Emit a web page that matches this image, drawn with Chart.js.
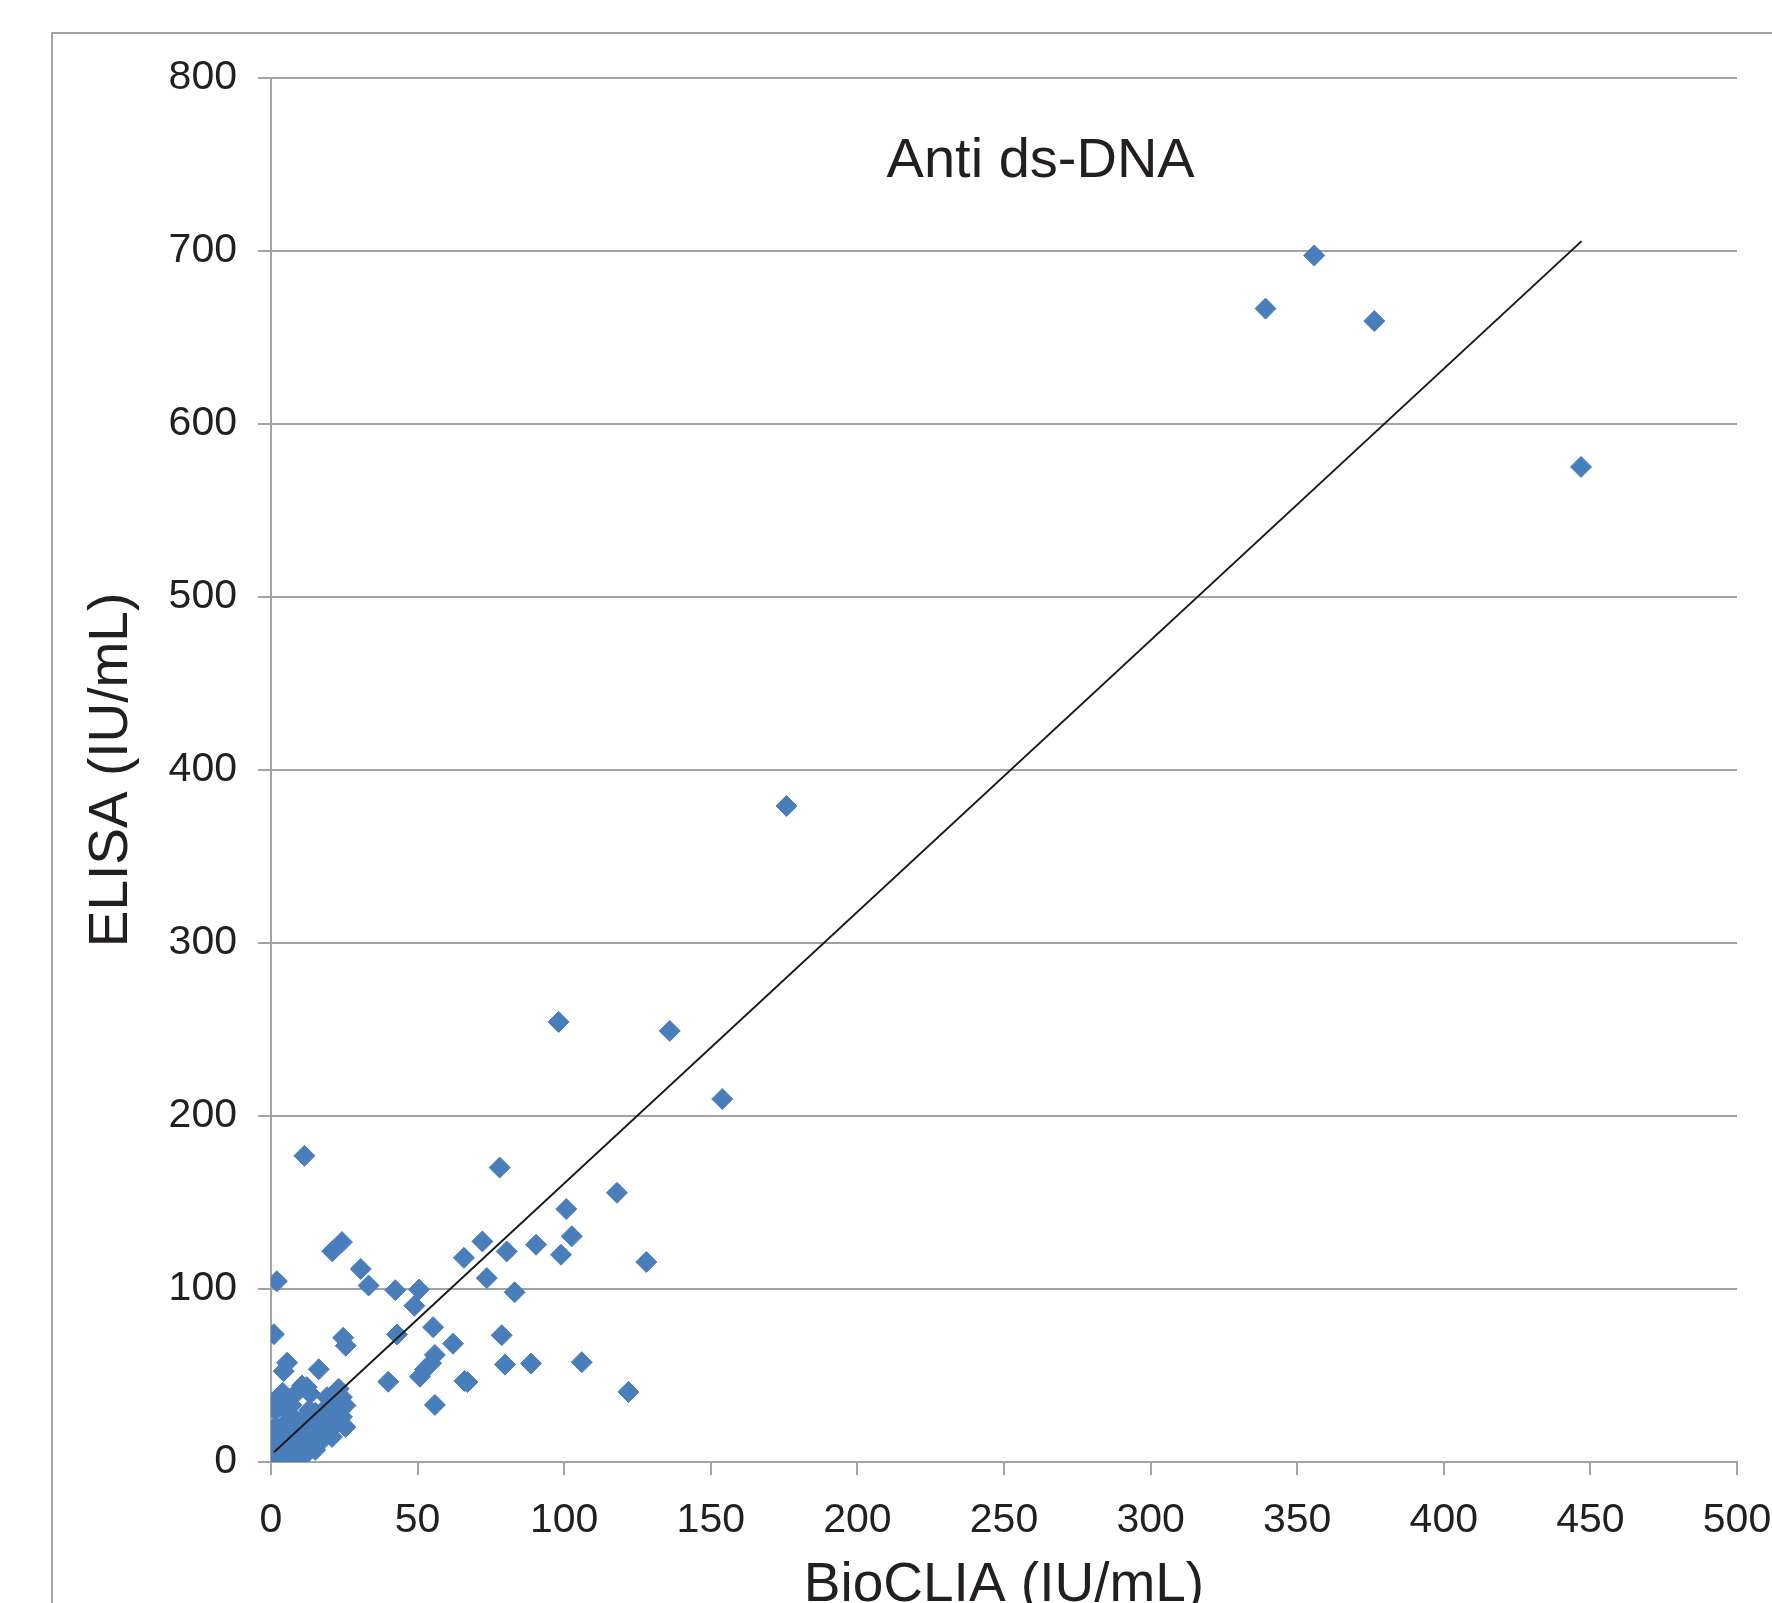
<!DOCTYPE html>
<html>
<head>
<meta charset="utf-8">
<script src="https://cdn.jsdelivr.net/npm/chart.js@4.4.0/dist/chart.umd.min.js"></script>
<style>
  html, body { margin: 0; padding: 0; background: #fff; overflow: hidden; }
  #wrap { position: relative; width: 1772px; height: 1603px; overflow: hidden; }
  #frame { position: absolute; left: 51px; top: 32px; width: 1800px; height: 1700px;
           border-left: 2px solid #a3a3a3; border-top: 2px solid #a3a3a3; }
  #myChart { position: absolute; left: 0; top: 0; }
</style>
</head>
<body>
<div id="wrap">
  <div id="frame"></div>
  <canvas id="myChart" width="1772" height="1660"></canvas>
</div>
<script>
// BioCLIA vs ELISA, Anti ds-DNA
const bioclia = [
  339.2, 355.8, 376.3, 446.8, 175.8, 98.1, 136.0, 153.9, 11.4, 78.0,
  118.0, 100.7, 102.6, 90.4, 72.1, 80.4, 98.9, 128.0, 65.8, 73.6,
  83.1, 24.2, 20.9, 30.6, 33.3, 2.0, 42.4, 50.5, 48.9, 1.0,
  24.6, 25.5, 43.0, 55.3, 78.7, 62.1, 55.9, 54.6, 52.5, 50.8,
  40.0, 66.0, 67.0, 79.8, 88.7, 106.0, 121.9, 55.9, 16.3, 5.5,
  4.3,
  2.6, 1.5, 10.6, 8.9, 13.4, 23.1, 24.2, 25.4, 24.2, 25.4,
  19.1, 18.5, 21.4, 20.8, 16.3, 12.9, 10.6, 8.3, 1.5, 0.3,
  0.2, 1.5, 6.0, 4.9, 8.3, 11.7, 15.1, 3.8, 6.0, 3.8,
  11.7, 14.0, 18.5, 21.9, 15.1, 9.4, 12.2, 1.9, 7.0, 3.0,
  2.0, 5.0, 10.6, 7.0, 13.0, 17.0, 20.0, 4.0
];
const elisa = [
  666.7, 697.4, 659.5, 575.2, 379.2, 254.4, 249.2, 209.8, 177.0, 170.2,
  155.6, 146.2, 130.5, 125.6, 127.5, 121.7, 119.8, 115.6, 118.0, 106.3,
  98.1, 127.1, 121.8, 111.6, 102.0, 104.5, 99.3, 99.7, 90.3, 73.9,
  71.8, 67.2, 73.7, 77.9, 73.3, 68.4, 61.9, 57.1, 53.5, 49.3,
  46.4, 46.8, 46.2, 56.3, 56.9, 57.7, 40.5, 33.0, 53.6, 57.4,
  52.5,
  37.5, 29.8, 44.2, 40.4, 39.4, 42.3, 37.5, 32.7, 26.1, 20.3,
  37.5, 30.8, 20.3, 14.5, 18.5, 12.7, 8.8, 5.0, 20.3, 12.7,
  5.0, 1.2, 28.5, 22.7, 24.6, 26.1, 28.5, 14.5, 8.8, 3.1,
  18.5, 22.7, 24.6, 28.5, 7.0, 16.8, 43.3, 36.6, 33.0, 9.0,
  17.0, 2.0, 2.3, 14.0, 30.0, 12.0, 33.0, 40.0
];

// trend line ends
const trendX = [1.0, 447.0];
const trendY = [5.6, 705.7];

const xTicks = { min: 0, max: 500, step: 50 };
const yTicks = { min: 0, max: 800, step: 100 };

const points = bioclia.map((x, i) => ({ x: x, y: elisa[i] }));
const trend = trendX.map((x, i) => ({ x: x, y: trendY[i] }));

const FONT = "'Liberation Sans', Arial, sans-serif";
const GRID = '#a3a3a3';
const INK = '#231f20';

const innerTitle = {
  id: 'innerTitle',
  afterDraw(chart) {
    const { ctx, chartArea } = chart;
    ctx.save();
    ctx.font = '56px ' + FONT;
    ctx.fillStyle = INK;
    ctx.textAlign = 'center';
    ctx.textBaseline = 'middle';
    ctx.fillText('Anti ds-DNA', chartArea.left + (chartArea.right - chartArea.left) * 0.525, chartArea.top + 84);
    ctx.restore();
  }
};

const ctx = document.getElementById('myChart');
new Chart(ctx, {
  type: 'scatter',
  data: {
    datasets: [{
      label: 'trend',
      data: trend,
      showLine: true,
      borderColor: '#1a1a1a',
      borderWidth: 2,
      pointRadius: 0,
      order: 0
    }, {
      label: 'Anti ds-DNA',
      data: points,
      pointStyle: 'rectRot',
      pointRadius: 10.5,
      pointHoverRadius: 10.5,
      backgroundColor: '#4a7ebb',
      borderColor: '#4a7ebb',
      borderWidth: 1,
      order: 1
    }]
  },
  options: {
    responsive: false,
    animation: false,
    events: [],
    layout: { padding: { left: 0, top: 78, right: 35, bottom: 0 } },
    plugins: {
      legend: { display: false },
      tooltip: { enabled: false }
    },
    scales: {
      x: {
        type: 'linear',
        min: xTicks.min,
        max: xTicks.max,
        afterFit: (scale) => { scale.height = 198; scale.paddingRight = 0; scale.paddingLeft = 0; },
        grid: { drawOnChartArea: false, drawTicks: true, tickLength: 13, color: GRID, lineWidth: 2 },
        border: { display: true, color: GRID, width: 2 },
        ticks: {
          stepSize: xTicks.step,
          autoSkip: false,
          maxRotation: 0,
          padding: 21,
          color: INK,
          font: { family: FONT, size: 41 }
        },
        title: {
          display: true,
          text: 'BioCLIA (IU/mL)',
          color: INK,
          font: { family: FONT, size: 55 },
          padding: { top: 0, bottom: 41 }
        }
      },
      y: {
        type: 'linear',
        min: yTicks.min,
        max: yTicks.max,
        afterFit: (scale) => { scale.width = 271; },
        grid: { drawTicks: true, tickLength: 13, color: GRID, lineWidth: 2 },
        border: { display: true, color: GRID, width: 2 },
        ticks: {
          stepSize: yTicks.step,
          padding: 21,
          color: INK,
          font: { family: FONT, size: 41 }
        },
        title: {
          display: true,
          text: 'ELISA (IU/mL)',
          color: INK,
          font: { family: FONT, size: 55 },
          padding: { top: 79, bottom: 0 }
        }
      }
    }
  },
  plugins: [innerTitle]
});
</script>
</body>
</html>
